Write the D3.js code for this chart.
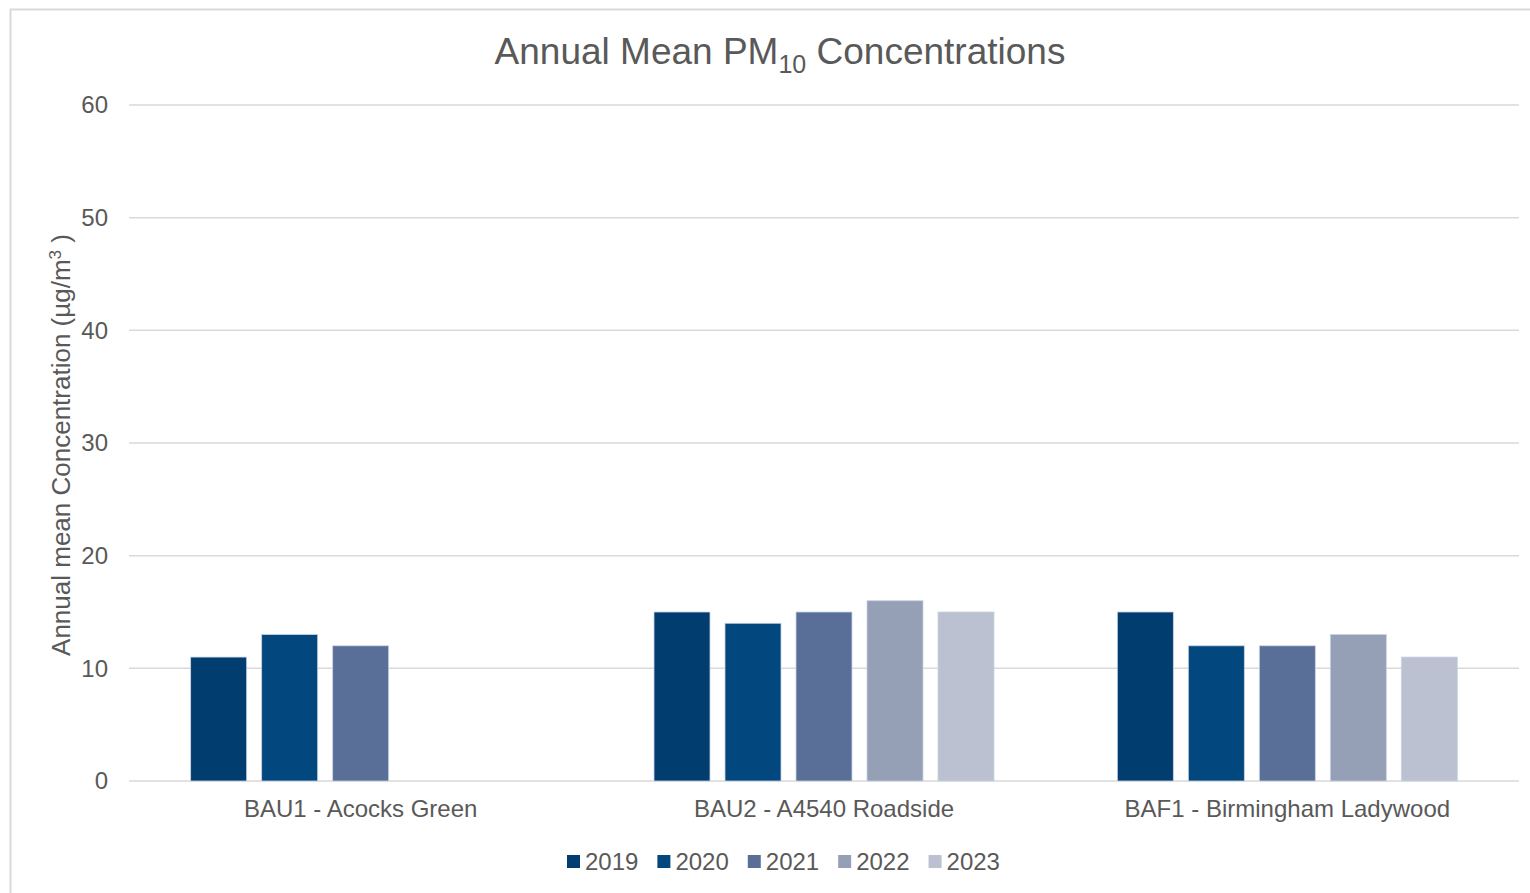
<!DOCTYPE html>
<html>
<head>
<meta charset="utf-8">
<script src="https://cdn.jsdelivr.net/npm/d3@7"></script>
<style>
  html, body { margin: 0; padding: 0; background: #fff; }
  svg { display: block; font-family: "Liberation Sans", Arial, sans-serif; }
</style>
</head>
<body>
<svg id="chart" width="1530" height="893"></svg>
<script>
// Monitoring sites (x categories)
const sites = ["BAU1 - Acocks Green", "BAU2 - A4540 Roadside", "BAF1 - Birmingham Ladywood"];
// Years shown as series
const years = ["2019", "2020", "2021", "2022", "2023"];
// Annual mean PM10 (µg/m³) per site, one value per year; null = no data
const values2019 = [11, 15, 15];
const values2020 = [13, 14, 12];
const values2021 = [12, 15, 12];
const values2022 = [null, 16, 13];
const values2023 = [null, 15, 11];
const yTicks = [0, 10, 20, 30, 40, 50, 60];
const colors = ["#023d70", "#03477f", "#5a6f98", "#95a0b7", "#bbc1d0"];

const seriesValues = [values2019, values2020, values2021, values2022, values2023];

const svg = d3.select("#chart");
const W = 1530, H = 893;
const margin = { left: 129, right: 11, top: 105, bottom: 112 };
const textColor = "#595959";
const gridColor = "#d9d9d9";

// Outer chart frame
svg.append("rect")
  .attr("x", 10.5).attr("y", 9.5)
  .attr("width", W + 20).attr("height", H + 20)
  .attr("fill", "#fff").attr("stroke", "#d9d9d9").attr("stroke-width", 2);

const x0 = d3.scaleBand().domain(sites).range([margin.left, W - margin.right]).padding(0);
const groupWidth = 340;
const x1 = d3.scaleBand().domain(years)
  .range([(x0.bandwidth() - groupWidth) / 2, (x0.bandwidth() + groupWidth) / 2])
  .paddingInner(15 / 71).paddingOuter(0);
const y = d3.scaleLinear().domain([0, 60]).range([H - margin.bottom, margin.top]);

// Gridlines
svg.append("g").selectAll("line").data(yTicks).join("line")
  .attr("x1", margin.left).attr("x2", W - margin.right)
  .attr("y1", d => y(d)).attr("y2", d => y(d))
  .attr("stroke", gridColor).attr("stroke-width", 1.5);

// Y axis labels
const yAxis = d3.axisLeft(y).tickValues(yTicks).tickSize(0).tickPadding(21);
const yG = svg.append("g").attr("transform", `translate(${margin.left},0)`).call(yAxis);
yG.select(".domain").remove();
yG.selectAll("text").attr("fill", textColor).style("font-size", "24px")
  .style("font-family", "'Liberation Sans', Arial, sans-serif");

// X axis labels
const xAxis = d3.axisBottom(x0).tickSize(0).tickPadding(19);
const xG = svg.append("g").attr("transform", `translate(0,${y(0)})`).call(xAxis);
xG.select(".domain").remove();
xG.selectAll("text").attr("fill", textColor).style("font-size", "24px")
  .style("font-family", "'Liberation Sans', Arial, sans-serif");

// Bars
const barData = [];
sites.forEach((s, i) => {
  years.forEach((yr, j) => {
    const v = seriesValues[j][i];
    if (v != null) barData.push({ site: s, year: yr, value: v, color: colors[j] });
  });
});
svg.append("g").selectAll("rect").data(barData).join("rect")
  .attr("x", d => x0(d.site) + x1(d.year))
  .attr("width", x1.bandwidth())
  .attr("y", d => y(d.value))
  .attr("height", d => y(0) - y(d.value))
  .attr("fill", d => d.color)
  .attr("stroke", "#c9d3e3").attr("stroke-width", 0.8);

// Title
const title = svg.append("text")
  .attr("x", (W + 20) / 2 + 5).attr("y", 64)
  .attr("text-anchor", "middle")
  .attr("fill", textColor).style("font-size", "37px");
title.append("tspan").text("Annual Mean PM");
title.append("tspan").text("10").attr("dy", 9).style("font-size", "25px");
title.append("tspan").text(" Concentrations").attr("dy", -9);

// Y axis title
const yTitle = svg.append("text")
  .attr("transform", `translate(70,${(y(0) + y(60)) / 2 + 2}) rotate(-90)`)
  .attr("text-anchor", "middle")
  .attr("fill", textColor).style("font-size", "26px");
yTitle.append("tspan").text("Annual mean Concentration (µg/m");
yTitle.append("tspan").text("3").attr("dy", -9).style("font-size", "17px");
yTitle.append("tspan").text(" )").attr("dy", 9);

// Legend
const legend = svg.append("g");
let lx = 567;
years.forEach((yr, j) => {
  const g = legend.append("g").attr("transform", `translate(${lx},0)`);
  g.append("rect").attr("x", 0).attr("y", 855).attr("width", 13).attr("height", 13).attr("fill", colors[j]);
  const t = g.append("text").attr("x", 18).attr("y", 870).attr("fill", textColor)
    .style("font-size", "24px").text(yr);
  lx += 18 + t.node().getComputedTextLength() + 19;
});
</script>
</body>
</html>
